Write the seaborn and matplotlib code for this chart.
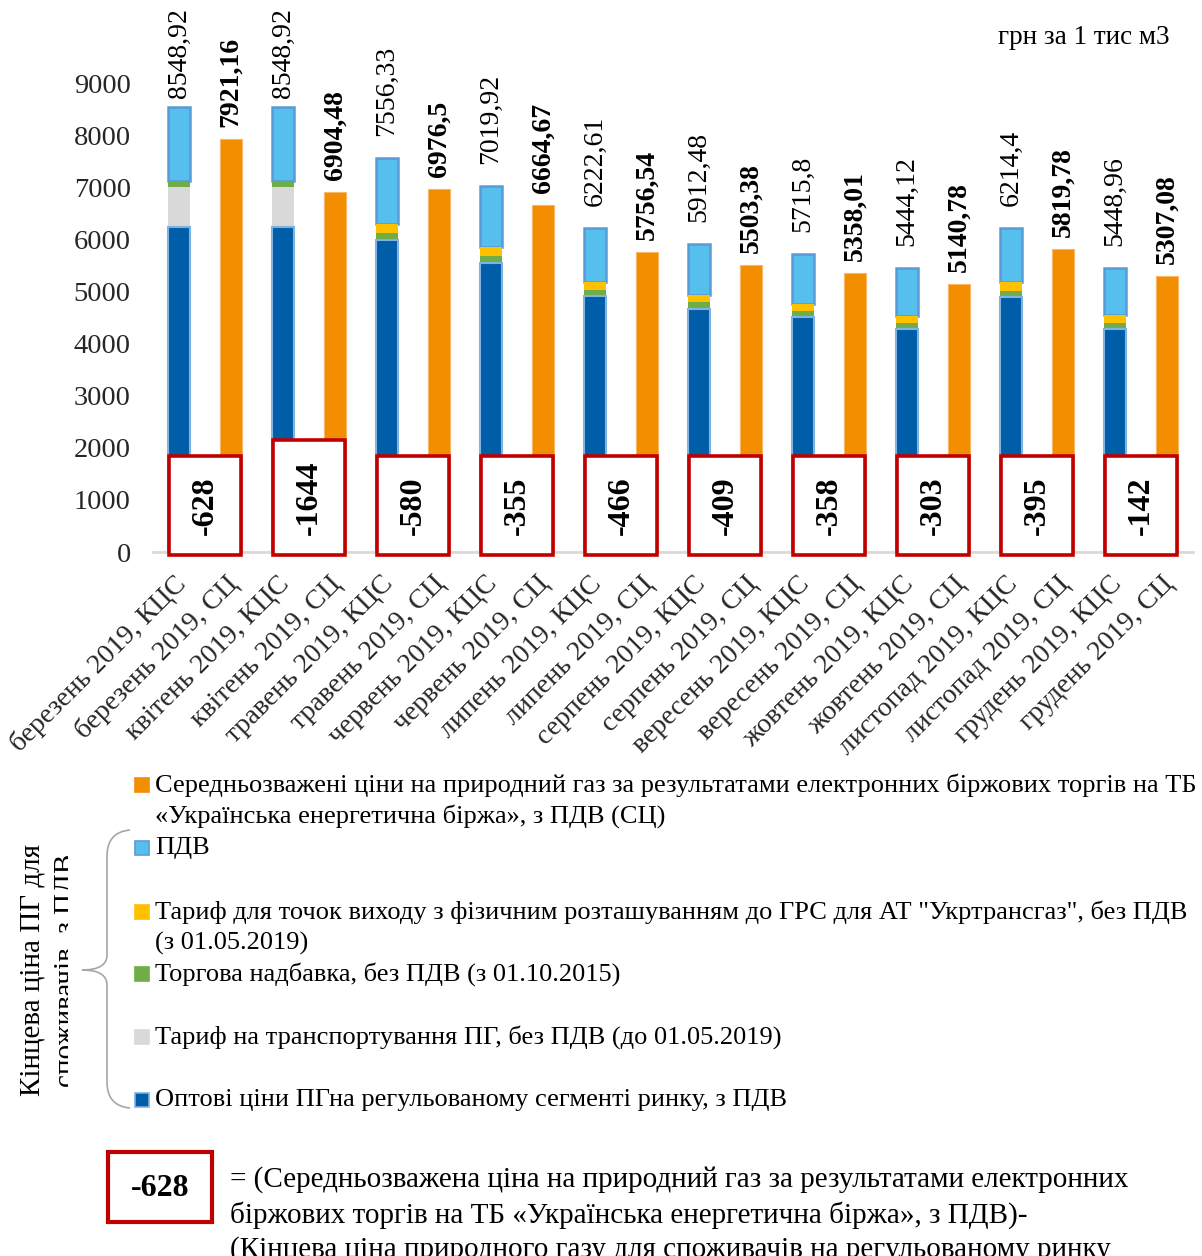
import numpy as np
import pandas as pd
import matplotlib
matplotlib.use("Agg")
import matplotlib.pyplot as plt
from matplotlib.patches import Rectangle, PathPatch
from matplotlib.path import Path
from matplotlib.transforms import ScaledTranslation
import seaborn as sns

# ---------------- data ----------------
months = ["березень", "квітень", "травень", "червень", "липень",
          "серпень", "вересень", "жовтень", "листопад", "грудень"]
# components of the final consumer price (КЦС), UAH per 1000 m3
wholesale = [6236.64, 6236.64, 5989.94, 5547.00, 4909.00,
             4670.00, 4515.00, 4279.77, 4902.00, 4283.80]
transport = [760.46, 760.46, 0, 0, 0, 0, 0, 0, 0, 0]
markup = [127.0, 127.0, 140.0, 140.0, 115.0, 120.0, 108.0, 110.0, 115.0, 110.0]
exit_tariff = [0, 0, 167.0, 163.0, 161.0, 137.0, 140.0, 147.0, 161.0, 147.0]
final_price = [8548.92, 8548.92, 7556.33, 7019.92, 6222.61,
               5912.48, 5715.8, 5444.12, 6214.4, 5448.96]
# weighted average exchange price (СЦ)
exchange_price = [7921.16, 6904.48, 6976.5, 6664.67, 5756.54,
                  5503.38, 5358.01, 5140.78, 5819.78, 5307.08]

legend_labels = [
    ["Середньозважені ціни на природний газ за результатами електронних біржових торгів на ТБ",
     "«Українська енергетична біржа», з ПДВ (СЦ)"],
    ["ПДВ"],
    ["Тариф для точок виходу з фізичним розташуванням до ГРС для АТ \"Укртрансгаз\", без ПДВ",
     "(з 01.05.2019)"],
    ["Торгова надбавка, без ПДВ (з 01.10.2015)"],
    ["Тариф на транспортування ПГ, без ПДВ (до 01.05.2019)"],
    ["Оптові ціни ПГна регульованому сегменті ринку, з ПДВ"],
]
unit_label = "грн за 1 тис м3"
bracket_label = "Кінцева ціна ПГ для\nспоживачів, з ПДВ"
note_lines = [
    "= (Середньозважена ціна на природний газ за результатами електронних",
    "біржових торгів на ТБ «Українська енергетична біржа», з ПДВ)-",
    "(Кінцева ціна природного газу для споживачів на регульованому ринку",
]

# ---------------- styling ----------------
C_ORANGE = "#F28E00"
C_VAT = "#56BFEE"
C_VAT_EDGE = "#5B9BD5"
C_EXIT = "#FFC000"
C_MARKUP = "#70AD47"
C_TRANSPORT = "#D9D9D9"
C_WHOLESALE = "#005EA8"
C_WHOLESALE_EDGE = "#7FB2E0"
C_RED = "#C00000"

sns.set_theme(style="white")
plt.rcParams["font.family"] = ["Liberation Serif", "DejaVu Serif"]
plt.rcParams["text.color"] = "black"

W, H = 1202, 1256
fig = plt.figure(figsize=(W / 100, H / 100), dpi=100)
fig.patch.set_facecolor("white")


def fx(px):
    return px / W


def fy(py):
    return 1 - py / H


ax = fig.add_axes([fx(153), fy(552), fx(1040), 521 / H])
PX_Y = 10000 / 521      # data units per pixel (vertical)
PX_X = 20 / 1040        # data units per pixel (horizontal)

# ---------------- long table for stacked bars ----------------
categories = []
for m in months:
    categories += [f"{m} 2019, КЦС", f"{m} 2019, СЦ"]

wh = np.array(wholesale)
c_tr = wh + np.array(transport)
c_mk = c_tr + np.array(markup)
c_ex = c_mk + np.array(exit_tariff)
c_top = np.array(final_price)

layers = [
    ("ПДВ", c_top, C_VAT),
    ("exit", c_ex, C_EXIT),
    ("markup", c_mk, C_MARKUP),
    ("transport", c_tr, C_TRANSPORT),
    ("wholesale", wh, C_WHOLESALE),
]
rows = []
for name, vals, _ in layers:
    for i, m in enumerate(months):
        rows.append({"category": categories[2 * i], "value": vals[i], "layer": name})
for i, m in enumerate(months):
    rows.append({"category": categories[2 * i + 1], "value": exchange_price[i], "layer": "СЦ"})
df = pd.DataFrame(rows)

hue_order = [l[0] for l in layers] + ["СЦ"]
palette = {l[0]: l[2] for l in layers}
palette["СЦ"] = C_ORANGE

sns.barplot(data=df, x="category", y="value", hue="layer", hue_order=hue_order,
            palette=palette, order=categories, dodge=False, width=0.42,
            errorbar=None, legend=False, saturation=1, linewidth=0, ax=ax)

# VAT segment: from the top of the exit tariff to the final price, with outline
for i, patch in enumerate(ax.containers[0].patches):
    patch.set_y(c_ex[i])
    patch.set_height(c_top[i] - c_ex[i])
    patch.set_edgecolor(C_VAT_EDGE)
    patch.set_linewidth(1.8)
for patch in ax.containers[4].patches:
    patch.set_edgecolor(C_WHOLESALE_EDGE)
    patch.set_linewidth(1.5)
for patch in ax.containers[5].patches:
    patch.set_edgecolor("#F8B766")
    patch.set_linewidth(0.8)

ax.set_xlim(-0.5, len(categories) - 0.5)
ax.set_ylim(0, 10000)
ax.set_yticks(np.arange(0, 9001, 1000))
ax.set_yticklabels([str(v) for v in range(0, 9001, 1000)], fontsize=20.5)
ax.set_xlabel("")
ax.set_ylabel("")
for s in ["top", "right", "left"]:
    ax.spines[s].set_visible(False)
ax.spines["bottom"].set_color("#D9D9D9")
ax.spines["bottom"].set_linewidth(2)
ax.tick_params(axis="y", length=0, pad=16)
ax.tick_params(axis="x", length=0, pad=14)
ax.set_xticks(range(len(categories)))
ax.set_xticklabels(categories, rotation=45, ha="right", rotation_mode="anchor",
                   fontsize=20)
offset = ScaledTranslation(-6 / 100, 0, fig.dpi_scale_trans)
for lbl in ax.get_xticklabels():
    lbl.set_transform(lbl.get_transform() + offset)


def fmt(v):
    return f"{v:g}".replace(".", ",")


# value labels: final price above the stack (kept inside the figure), exchange price bold
label_ceiling = 8720
diff_texts = []
for i in range(len(months)):
    ax.text(2 * i, min(final_price[i] + 22 * PX_Y, label_ceiling), fmt(final_price[i]),
            rotation=90, ha="center", va="bottom", fontsize=20)
    ax.text(2 * i + 1, exchange_price[i] + 12 * PX_Y, fmt(exchange_price[i]),
            rotation=90, ha="center", va="bottom", fontsize=20, fontweight="bold")
    diff = int(round(exchange_price[i] - final_price[i]))
    t = ax.text(2 * i + 0.5, -60 + 20 * PX_Y, str(diff), rotation=90, ha="center",
                va="bottom", fontsize=23, fontweight="bold", zorder=6)
    diff_texts.append(t)

# red frames around the differences, sized to their text
fig.canvas.draw()
renderer = fig.canvas.get_renderer()
for i, t in enumerate(diff_texts):
    ext = t.get_window_extent(renderer)
    top = -60 + (ext.height + 41) * PX_Y
    ax.add_patch(Rectangle((2 * i + 0.5 - 36 * PX_X, -60), 72 * PX_X, top + 60,
                           fc="white", ec=C_RED, lw=2.6, zorder=5, clip_on=False))

# unit
fig.text(fx(1170), fy(38), unit_label, ha="right", va="center", fontsize=19.5)

# ---------------- legend ----------------
legend_items = [
    (C_ORANGE, None, 785),
    (C_VAT, C_VAT_EDGE, 848),
    (C_EXIT, None, 912),
    (C_MARKUP, None, 974),
    (C_TRANSPORT, None, 1037),
    (C_WHOLESALE, C_WHOLESALE_EDGE, 1100),
]
for (color, edge, y0), lines in zip(legend_items, legend_labels):
    fig.add_artist(Rectangle((fx(135), fy(y0 + 7)), fx(14), 14 / H,
                             transform=fig.transFigure, fc=color,
                             ec=edge if edge else color, lw=1.2))
    for k, line in enumerate(lines):
        fig.text(fx(155), fy(y0 + 31 * k), line, ha="left", va="center", fontsize=19)


# curly brace grouping the components of the final price
def P(x, y):
    return (fx(x), fy(y))


verts = [P(130, 830), P(107, 832), P(107, 856), P(107, 955),
         P(107, 970), P(82, 970), P(107, 970), P(107, 985),
         P(107, 1082), P(107, 1106), P(130, 1108)]
codes = [Path.MOVETO, Path.CURVE3, Path.CURVE3, Path.LINETO,
         Path.CURVE3, Path.CURVE3, Path.CURVE3, Path.CURVE3,
         Path.LINETO, Path.CURVE3, Path.CURVE3]
brace = PathPatch(Path(verts, codes), transform=fig.transFigure,
                  fc="none", ec="#A6A6A6", lw=1.2, zorder=5)

fig.text(fx(50), fy(970), bracket_label, rotation=90, ha="center",
         va="center", multialignment="center", fontsize=21,
         linespacing=1.4, zorder=3)
# the label's text frame is narrower than its second line
fig.add_artist(Rectangle((fx(68), fy(1115)), fx(13), 290 / H,
                         transform=fig.transFigure, fc="white", ec="none", zorder=4))
fig.add_artist(brace)

# ---------------- explanatory note ----------------
fig.add_artist(Rectangle((fx(108), fy(1222)), fx(104), 70 / H,
                         transform=fig.transFigure, fc="white", ec=C_RED, lw=3))
first_diff = int(round(exchange_price[0] - final_price[0]))
fig.text(fx(160), fy(1188), str(first_diff), ha="center", va="center",
         fontsize=23, fontweight="bold")
for k, line in enumerate(note_lines):
    fig.text(fx(230), fy(1180 + 35 * k), line, ha="left", va="center", fontsize=21)

fig.savefig("out.png", dpi=100, facecolor="white")
